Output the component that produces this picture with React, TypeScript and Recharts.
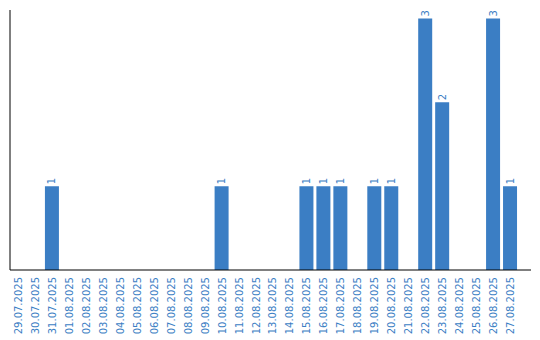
import { BarChart, Bar, XAxis, YAxis, LabelList } from 'recharts';

const days = [
  '29.07.2025', '30.07.2025', '31.07.2025', '01.08.2025', '02.08.2025', '03.08.2025',
  '04.08.2025', '05.08.2025', '06.08.2025', '07.08.2025', '08.08.2025', '09.08.2025',
  '10.08.2025', '11.08.2025', '12.08.2025', '13.08.2025', '14.08.2025', '15.08.2025',
  '16.08.2025', '17.08.2025', '18.08.2025', '19.08.2025', '20.08.2025', '21.08.2025',
  '22.08.2025', '23.08.2025', '24.08.2025', '25.08.2025', '26.08.2025', '27.08.2025',
];
const counts = [0, 0, 1, 0, 0, 0, 0, 0, 0, 0, 0, 0, 1, 0, 0, 0, 0, 1, 1, 1, 0, 1, 1, 0, 3, 2, 0, 0, 3, 1];

const data = days.map((day, i) => ({ day, count: counts[i] }));

const BLUE = '#3b7ec4';
const FONT = '"DejaVu Sans", Verdana, sans-serif';

function DayTick({ x, y, payload }: any) {
  return (
    <text
      x={x}
      y={y}
      transform={`rotate(-90 ${x} ${y})`}
      textAnchor="end"
      dominantBaseline="central"
      fill={BLUE}
      fontSize={10}
      fontFamily={FONT}
    >
      {payload.value}
    </text>
  );
}

function ValueLabel({ x, y, width, value }: any) {
  if (!value) return null;
  const cx = x + width / 2;
  const cy = y - 2;
  return (
    <text
      x={cx}
      y={cy}
      transform={`rotate(-90 ${cx} ${cy})`}
      textAnchor="start"
      dominantBaseline="central"
      fill={BLUE}
      fontSize={10}
      fontFamily={FONT}
    >
      {value}
    </text>
  );
}

export default function App() {
  return (
    <div style={{ position: 'absolute', left: 0, top: 0, background: '#fff' }}>
      <BarChart width={540} height={340} data={data} margin={{ top: 10, right: 9, bottom: 0, left: 0 }}>
        <XAxis
          dataKey="day"
          interval={0}
          height={70}
          tickLine={false}
          tickSize={0}
          tickMargin={7}
          axisLine={{ stroke: '#000' }}
          padding={{ left: 0, right: 12 }}
          tick={<DayTick />}
        />
        <YAxis width={10} domain={[0, 3.1]} tick={false} tickLine={false} axisLine={{ stroke: '#000' }} />
        <Bar dataKey="count" fill={BLUE} barSize={14} isAnimationActive={false}>
          <LabelList dataKey="count" content={<ValueLabel />} />
        </Bar>
      </BarChart>
    </div>
  );
}
